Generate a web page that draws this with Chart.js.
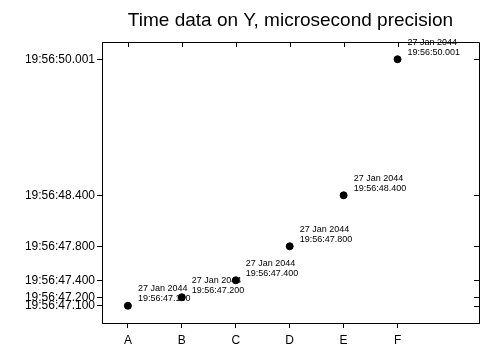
<!DOCTYPE html>
<html lang="en">
<head>
    <meta charset="UTF-8">
    <title>Time data on Y</title>
    <script src="https://cdn.jsdelivr.net/npm/chart.js"></script>
    <style>
        body { margin: 0; background: white; }
    </style>
</head>
<body>
    <canvas id="timeChart" width="500" height="350"></canvas>

    <script>
        // Data
        const categories = ['A', 'B', 'C', 'D', 'E', 'F'];
        const secondsValues = [47.100, 47.200, 47.400, 47.800, 48.400, 50.001];
        const timePrefix = '19:56:';
        const dateLabel = '27 Jan 2044';
        const yTickValues = [47.100, 47.200, 47.400, 47.800, 48.400, 50.001];

        const fontFamily = '"Liberation Sans", Arial, sans-serif';
        const fmtTime = v => timePrefix + v.toFixed(3);

        // Point labels (under the points) and the frame with inward ticks on top/right
        const framePlugin = {
            id: 'frame',
            beforeDatasetsDraw(chart) {
                const ctx = chart.ctx;
                const meta = chart.getDatasetMeta(0);
                ctx.save();
                ctx.font = '9px ' + fontFamily;
                ctx.fillStyle = '#000';
                ctx.textAlign = 'left';
                ctx.textBaseline = 'middle';
                meta.data.forEach((pt, i) => {
                    ctx.fillText(dateLabel, pt.x + 10, pt.y - 17);
                    ctx.fillText(fmtTime(secondsValues[i]), pt.x + 10, pt.y - 7);
                });
                ctx.restore();
            },
            afterDatasetsDraw(chart) {
                const ctx = chart.ctx;
                const a = chart.chartArea;
                const xs = chart.scales.x, ys = chart.scales.y;
                ctx.save();
                ctx.strokeStyle = '#000';
                ctx.lineWidth = 1;
                ctx.beginPath();
                ctx.moveTo(a.left, a.top + 0.5);
                ctx.lineTo(a.right + 0.5, a.top + 0.5);
                ctx.lineTo(a.right + 0.5, a.bottom);
                xs.ticks.forEach(t => {
                    const px = Math.round(xs.getPixelForValue(t.value)) + 0.5;
                    ctx.moveTo(px, a.top);
                    ctx.lineTo(px, a.top + 5);
                });
                ys.ticks.forEach(t => {
                    const py = Math.round(ys.getPixelForValue(t.value)) + 0.5;
                    ctx.moveTo(a.right, py);
                    ctx.lineTo(a.right - 5, py);
                });
                ctx.stroke();
                ctx.restore();
            }
        };

        const ctx = document.getElementById('timeChart').getContext('2d');
        new Chart(ctx, {
            type: 'scatter',
            data: {
                datasets: [{
                    data: secondsValues.map((v, i) => ({ x: i + 1, y: v })),
                    backgroundColor: '#000',
                    borderColor: '#000',
                    pointRadius: 3.5,
                    pointHoverRadius: 3.5
                }]
            },
            options: {
                responsive: false,
                animation: false,
                layout: { padding: { top: 0, right: 21, bottom: 0, left: 0 } },
                plugins: {
                    legend: { display: false },
                    tooltip: { enabled: false },
                    title: {
                        display: true,
                        text: 'Time data on Y, microsecond precision',
                        fullSize: false,
                        color: '#000',
                        font: { family: fontFamily, size: 19, weight: 'normal', lineHeight: 1.2 },
                        padding: { top: 9, bottom: 10.2 }
                    }
                },
                scales: {
                    x: {
                        type: 'linear',
                        min: 0.52,
                        max: 7.51,
                        afterBuildTicks: s => { s.ticks = categories.map((c, i) => ({ value: i + 1 })); },
                        afterFit: s => { s.height = 27; },
                        ticks: {
                            autoSkip: false,
                            maxRotation: 0,
                            color: '#000',
                            padding: 5,
                            font: { family: fontFamily, size: 12 },
                            callback: v => categories[v - 1]
                        },
                        grid: { drawOnChartArea: false, tickLength: 5, color: '#000' },
                        border: { display: true, color: '#000', width: 1 }
                    },
                    y: {
                        type: 'linear',
                        min: 46.897,
                        max: 50.204,
                        afterBuildTicks: s => { s.ticks = yTickValues.map(v => ({ value: v })); },
                        afterFit: s => { s.width = 102; },
                        ticks: {
                            autoSkip: false,
                            color: '#000',
                            padding: 2,
                            font: { family: fontFamily, size: 12 },
                            callback: v => fmtTime(v)
                        },
                        grid: { drawOnChartArea: false, tickLength: 5, color: '#000' },
                        border: { display: true, color: '#000', width: 1 }
                    }
                }
            },
            plugins: [framePlugin]
        });
    </script>
</body>
</html>
